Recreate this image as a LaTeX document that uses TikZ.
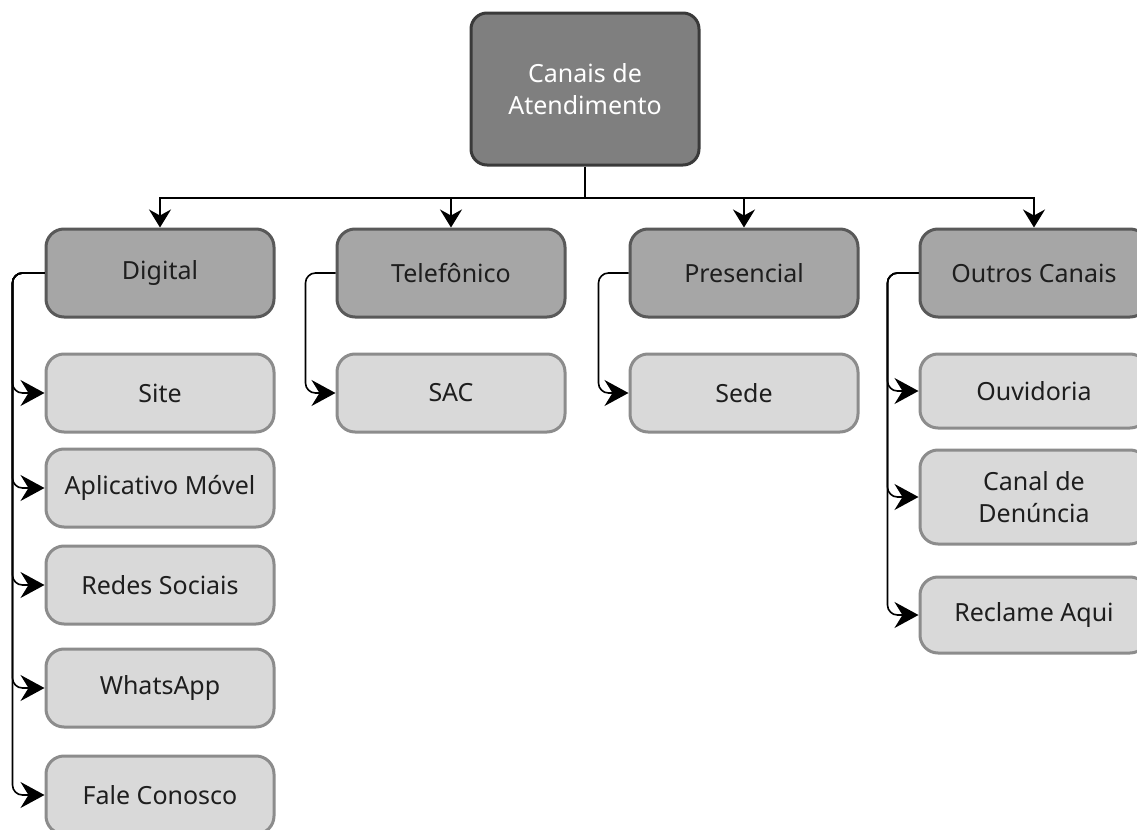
\documentclass[tikz,border=0pt]{standalone}
\usepackage{fontspec}
\setmainfont{Noto Sans}
\usetikzlibrary{positioning,arrows.meta}
\definecolor{rootfill}{HTML}{7F7F7F}
\definecolor{rootline}{HTML}{3A3A3A}
\definecolor{groupfill}{HTML}{A6A6A6}
\definecolor{groupline}{HTML}{595959}
\definecolor{leaffill}{HTML}{D9D9D9}
\definecolor{leafline}{HTML}{8C8C8C}
\definecolor{labeltext}{HTML}{1E1E1E}

\begin{document}
\begin{tikzpicture}[x=0.5pt, y=-0.5pt,
root/.style={rectangle, rounded corners=8pt, draw=rootline, fill=rootfill, line width=1.5pt, minimum width=114pt, minimum height=76pt, text=white, align=center, font=\fontsize{12.5}{16}\selectfont},
group/.style={rectangle, rounded corners=9pt, draw=groupline, fill=groupfill, line width=1.5pt, minimum width=114pt, minimum height=44pt, text=labeltext, align=center, font=\fontsize{12.5}{16}\selectfont},
leaf/.style={rectangle, rounded corners=9pt, draw=leafline, fill=leaffill, line width=1.5pt, minimum width=114pt, minimum height=39pt, text=labeltext, align=center, font=\fontsize{12.5}{16}\selectfont},
busline/.style={line width=1pt},
branch/.style={line width=1pt, -{Stealth[length=9pt, width=11pt, inset=3pt]}},
feed/.style={line width=0.8pt, rounded corners=5pt, -{Stealth[length=12pt, width=13pt, inset=4pt]}}
]
\useasboundingbox (0,0) rectangle (1137,830);

%Nodes
\node[root] (canais) at (585,89) {Canais de\\Atendimento};
\node[group] (digital) at (160,273) {Digital};
\node[group] (telefonico) [right=30pt of digital] {Telefônico};
\node[group] (presencial) [right=31pt of telefonico] {Presencial};
\node[group] (outros) [right=29.5pt of presencial] {Outros Canais};

\node[leaf] (site) [below=17pt of digital] {Site};
\node[leaf] (app) [below=7pt of site] {Aplicativo Móvel};
\node[leaf] (redes) [below=8pt of app] {Redes Sociais};
\node[leaf] (whatsapp) [below=11pt of redes] {WhatsApp};
\node[leaf] (fale) [below=13pt of whatsapp] {Fale Conosco};

\node[leaf] (sac) [below=17pt of telefonico] {SAC};
\node[leaf] (sede) [below=17pt of presencial] {Sede};

\node[leaf, minimum height=37pt] (ouvidoria) [below=17pt of outros] {Ouvidoria};
\node[leaf, minimum height=47pt] (denuncia) [below=9.5pt of ouvidoria] {Canal de\\Denúncia};
\node[leaf, minimum height=38pt] (reclame) [below=15pt of denuncia] {Reclame Aqui};

\coordinate (bus) at (585,198);
\coordinate (digital_rail) at ([xshift=-16pt]digital.west);
\coordinate (telefonico_rail) at ([xshift=-15pt]telefonico.west);
\coordinate (presencial_rail) at ([xshift=-15pt]presencial.west);
\coordinate (outros_rail) at ([xshift=-15.5pt]outros.west);

%Connections
\draw[busline] (canais.south) -- (bus);
\draw[branch] (bus) -| (digital.north);
\draw[branch] (bus) -| (telefonico.north);
\draw[branch] (bus) -| (presencial.north);
\draw[branch] (bus) -| (outros.north);

\draw[feed] (digital.west) -| (digital_rail |- site) -- (site.west);
\draw[feed] (digital.west) -| (digital_rail |- app) -- (app.west);
\draw[feed] (digital.west) -| (digital_rail |- redes) -- (redes.west);
\draw[feed] (digital.west) -| (digital_rail |- whatsapp) -- (whatsapp.west);
\draw[feed] (digital.west) -| (digital_rail |- fale) -- (fale.west);

\draw[feed] (telefonico.west) -| (telefonico_rail |- sac) -- (sac.west);
\draw[feed] (presencial.west) -| (presencial_rail |- sede) -- (sede.west);

\draw[feed] (outros.west) -| (outros_rail |- ouvidoria) -- (ouvidoria.west);
\draw[feed] (outros.west) -| (outros_rail |- denuncia) -- (denuncia.west);
\draw[feed] (outros.west) -| (outros_rail |- reclame) -- (reclame.west);
\end{tikzpicture}
\end{document}
